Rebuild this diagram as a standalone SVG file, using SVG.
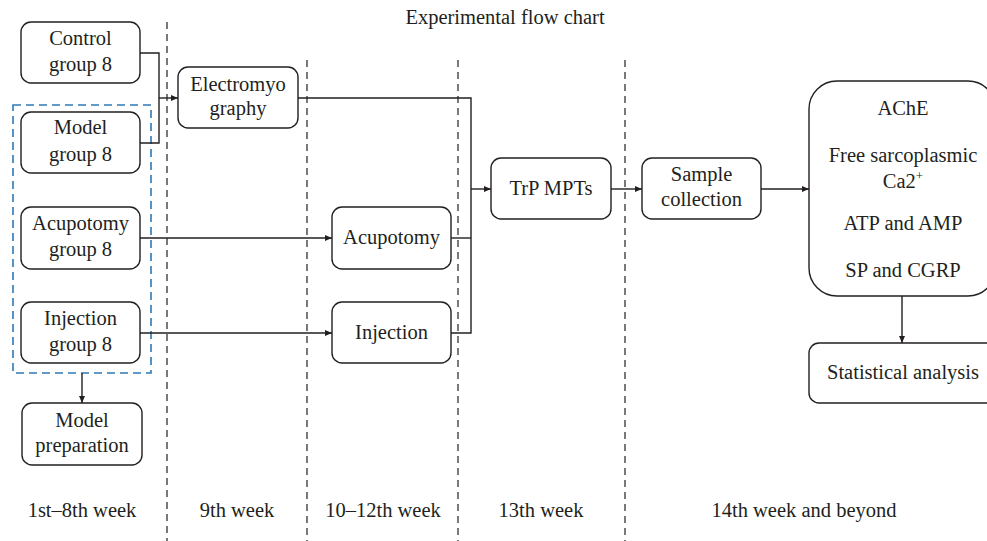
<svg xmlns="http://www.w3.org/2000/svg" width="987" height="541" viewBox="0 0 987 541">
<style>
text{font-family:"Liberation Serif","Times New Roman",serif;font-size:20.5px;fill:#231f20;text-anchor:middle}
.box{fill:#fff;stroke:#231f20;stroke-width:1.4}
.conn{fill:none;stroke:#231f20;stroke-width:1.4}
.div{fill:none;stroke:#231f20;stroke-width:1.2;stroke-dasharray:7 5}
</style>
<defs>
<marker id="ah" markerWidth="8" markerHeight="8" refX="7" refY="4" orient="auto" markerUnits="userSpaceOnUse">
<path d="M0,1 L7,4 L0,7 Z" fill="#231f20"/>
</marker>
</defs>
<rect width="987" height="541" fill="#fff"/>
<text x="505" y="24">Experimental flow chart</text>
<g id="dividers">
<line class="div" x1="167" y1="22" x2="167" y2="541"/>
<line class="div" x1="307" y1="60" x2="307" y2="541"/>
<line class="div" x1="458" y1="60" x2="458" y2="541"/>
<line class="div" x1="625" y1="60" x2="625" y2="541"/>
</g>
<g id="model-group-frame">
<rect x="13" y="105" width="138" height="268" fill="none" stroke="#2e78b8" stroke-width="1.6" stroke-dasharray="8 5"/>
</g>
<g id="connectors">
<polyline class="conn" points="140,53 159,53 159,143 140,143"/>
<line class="conn" x1="159" y1="98" x2="178" y2="98" marker-end="url(#ah)"/>
<polyline class="conn" points="298,98 471,98 471,333 451,333"/>
<line class="conn" x1="451" y1="238" x2="471" y2="238"/>
<line class="conn" x1="471" y1="189" x2="491" y2="189" marker-end="url(#ah)"/>
<line class="conn" x1="140" y1="238" x2="332" y2="238" marker-end="url(#ah)"/>
<line class="conn" x1="140" y1="333" x2="332" y2="333" marker-end="url(#ah)"/>
<line class="conn" x1="611" y1="189" x2="642" y2="189" marker-end="url(#ah)"/>
<line class="conn" x1="761" y1="189" x2="809" y2="189" marker-end="url(#ah)"/>
<line class="conn" x1="902" y1="296" x2="902" y2="343" marker-end="url(#ah)"/>
<line class="conn" x1="82" y1="373" x2="82" y2="403" marker-end="url(#ah)"/>
</g>
<g id="control">
<rect class="box" x="21" y="22" width="119" height="61" rx="10"/>
<text x="80.5" y="45">Control</text>
<text x="80.5" y="71">group 8</text>
</g>
<g id="model">
<rect class="box" x="21" y="112" width="119" height="61" rx="10"/>
<text x="80.5" y="134">Model</text>
<text x="80.5" y="161">group 8</text>
</g>
<g id="acupotomy-group">
<rect class="box" x="21" y="207" width="119" height="62" rx="10"/>
<text x="80.5" y="230">Acupotomy</text>
<text x="80.5" y="256">group 8</text>
</g>
<g id="injection-group">
<rect class="box" x="21" y="302" width="119" height="61" rx="10"/>
<text x="80.5" y="325">Injection</text>
<text x="80.5" y="351">group 8</text>
</g>
<g id="model-preparation">
<rect class="box" x="22" y="403" width="120" height="62" rx="10"/>
<text x="82" y="427">Model</text>
<text x="82" y="452">preparation</text>
</g>
<g id="electromyography">
<rect class="box" x="178" y="67" width="120" height="61" rx="10"/>
<text x="238" y="91">Electromyo</text>
<text x="238" y="115">graphy</text>
</g>
<g id="acupotomy">
<rect class="box" x="332" y="207" width="119" height="62" rx="10"/>
<text x="391.5" y="244">Acupotomy</text>
</g>
<g id="injection">
<rect class="box" x="332" y="302" width="119" height="61" rx="10"/>
<text x="391.5" y="339">Injection</text>
</g>
<g id="trp-mpts">
<rect class="box" x="491" y="158" width="120" height="61" rx="10"/>
<text x="551" y="195">TrP MPTs</text>
</g>
<g id="sample-collection">
<rect class="box" x="642" y="158" width="119" height="61" rx="10"/>
<text x="701.5" y="181">Sample</text>
<text x="701.5" y="206">collection</text>
</g>
<g id="measures">
<rect class="box" x="809" y="81" width="187" height="215" rx="28"/>
<text x="903" y="115">AChE</text>
<text x="903" y="162">Free sarcoplasmic</text>
<text x="903" y="188">Ca2<tspan font-size="13" dy="-8">+</tspan></text>
<text x="903" y="230">ATP and AMP</text>
<text x="903" y="277">SP and CGRP</text>
</g>
<g id="statistical-analysis">
<rect class="box" x="809" y="343" width="190" height="60" rx="10"/>
<text x="903" y="379">Statistical analysis</text>
</g>
<g id="week-labels">
<text x="82" y="517">1st–8th week</text>
<text x="237" y="517">9th week</text>
<text x="383" y="517">10–12th week</text>
<text x="541" y="517">13th week</text>
<text x="804" y="517">14th week and beyond</text>
</g>
</svg>
